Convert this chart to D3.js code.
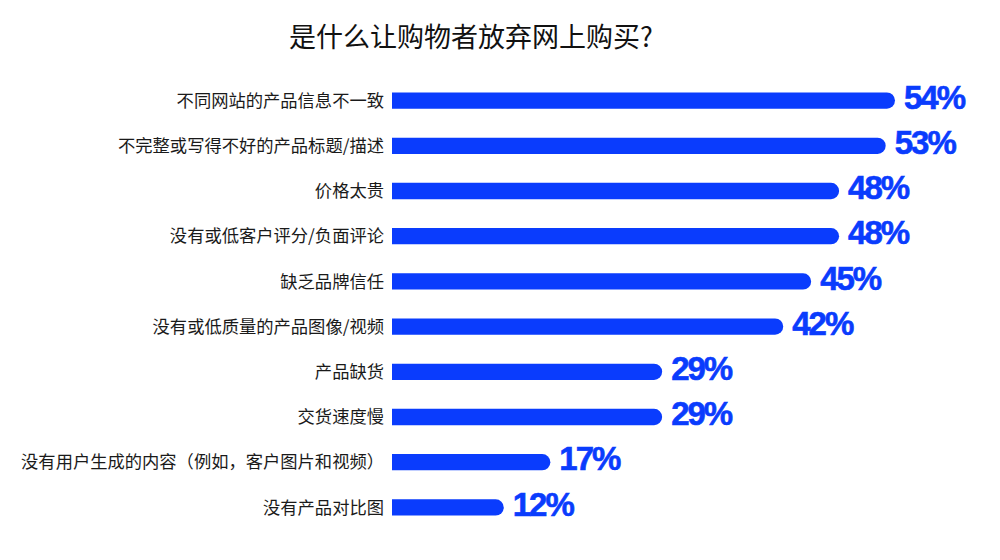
<!DOCTYPE html>
<html><head><meta charset="utf-8">
<script src="https://cdn.jsdelivr.net/npm/d3@7"></script>
<style>body{margin:0;background:#fff}</style>
</head><body>
<svg id="c" width="1000" height="560"></svg>
<script>
const categories = ["不同网站的产品信息不一致","不完整或写得不好的产品标题/描述","价格太贵","没有或低客户评分/负面评论","缺乏品牌信任","没有或低质量的产品图像/视频","产品缺货","交货速度慢","没有用户生成的内容（例如，客户图片和视频）","没有产品对比图"];
const values = [54,53,48,48,45,42,29,29,17,12];
const title = "是什么让购物者放弃网上购买?";

const svg = d3.select("#c");
const x = d3.scaleLinear().domain([0,54]).range([392,895]);
const y = d3.scaleBand().domain(categories).range([78,530]).paddingInner(0.64).paddingOuter(0.32);
const color = "#0a3cfd";

svg.append("text").attr("x",471).attr("y",47).attr("text-anchor","middle")
  .attr("font-family","'Noto Sans CJK SC'").attr("font-size",27).attr("fill","#111").text(title);

const h = y.bandwidth();
const g = svg.append("g");
categories.forEach((c,i)=>{
  const x0 = x(0), x1 = x(values[i]), y0 = y(c), r = h/2;
  const p = d3.path();
  p.moveTo(x0,y0); p.lineTo(x1-r,y0);
  p.arc(x1-r,y0+r,r,-Math.PI/2,Math.PI/2);
  p.lineTo(x0,y0+h); p.closePath();
  g.append("path").attr("d",p.toString()).attr("fill",color);
  g.append("text").attr("x",x0-8).attr("y",y0+r).attr("dy","0.36em").attr("text-anchor","end")
    .attr("font-family","'Noto Sans CJK SC'").attr("font-size",17.3).attr("fill","#1a1a1a").text(c);
  g.append("text").attr("x",x1+9).attr("y",y0+r).attr("dy","0.25em")
    .attr("font-family","'Liberation Sans',Arial").attr("font-weight","bold").attr("font-size",33)
    .attr("letter-spacing",-2).attr("stroke",color).attr("stroke-width",0.6)
    .attr("fill",color).text(values[i]+"%");
});
</script>
</body></html>
